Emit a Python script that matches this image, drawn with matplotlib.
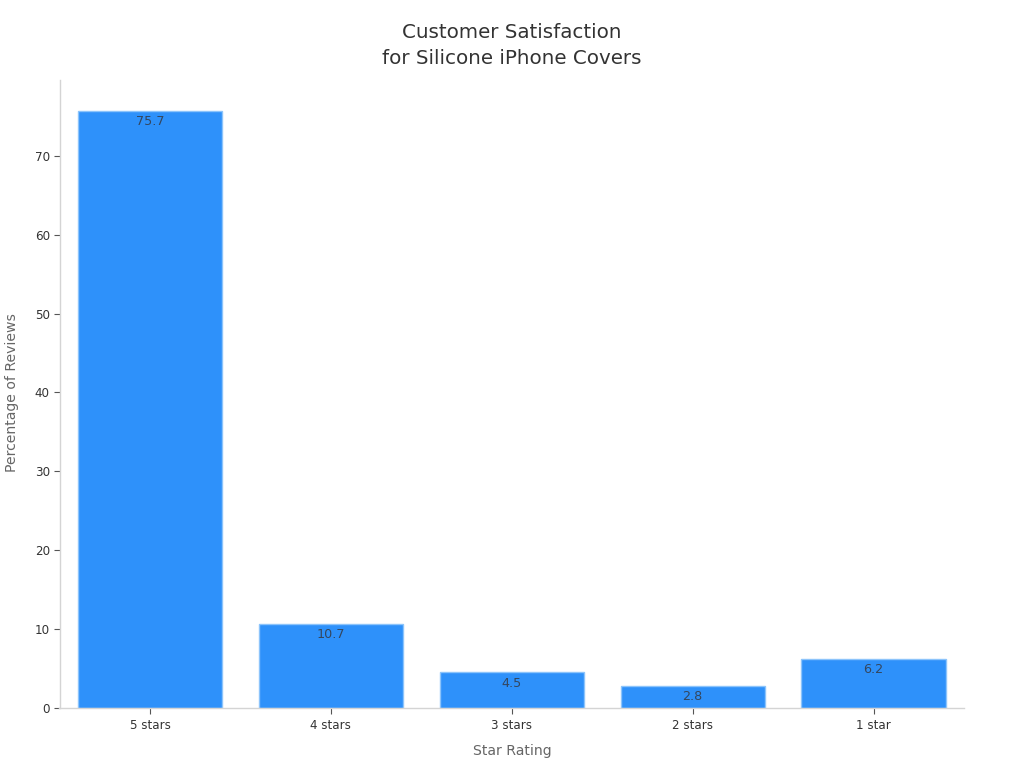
import matplotlib
matplotlib.use("Agg")
import matplotlib.pyplot as plt

ratings = ["5 stars", "4 stars", "3 stars", "2 stars", "1 star"]
percentages = [75.7, 10.7, 4.5, 2.8, 6.2]
y_ticks = [0, 10, 20, 30, 40, 50, 60, 70]

fig = plt.figure(figsize=(10.24, 7.68), dpi=100)
ax = fig.add_axes([59.5 / 1024, 1 - 708 / 768, 904.5 / 1024, 628 / 768])

bars = ax.bar(range(len(ratings)), percentages, width=0.797, color="#2e91fa",
              edgecolor="#8cc4fb", linewidth=1)
for bar, val in zip(bars, percentages):
    ax.annotate(str(val), (bar.get_x() + bar.get_width() / 2, val), xytext=(0, -3),
                textcoords="offset points", ha="center", va="top",
                fontsize=9.2, color="#34465e")

ax.set_xlim(-0.5, 4.5)
ax.set_ylim(0, 79.6)
ax.set_xticks(range(len(ratings)))
ax.set_xticklabels(ratings)
ax.set_yticks(y_ticks)
ax.tick_params(axis="both", labelsize=8.6, labelcolor="#333333", length=4, width=0.8,
               color="#555555", pad=3)
ax.tick_params(axis="x", pad=4)

for side in ["top", "right"]:
    ax.spines[side].set_visible(False)
for side in ["left", "bottom"]:
    ax.spines[side].set_color("#d4d4d4")
    ax.spines[side].set_linewidth(1)

fig.text(512 / 1024, 1 - 751 / 768, "Star Rating", ha="center", va="center",
         fontsize=10.05, color="#666666")
fig.text(12 / 1024, 1 - 393 / 768, "Percentage of Reviews", ha="center", va="center",
         rotation=90, fontsize=10.1, color="#666666")
fig.text(512 / 1024, 1 - 33 / 768, "Customer Satisfaction", ha="center", va="center",
         fontsize=14.35, color="#333333")
fig.text(512 / 1024, 1 - 59 / 768, "for Silicone iPhone Covers", ha="center", va="center",
         fontsize=14.35, color="#333333")

fig.savefig("out.png", dpi=100)
